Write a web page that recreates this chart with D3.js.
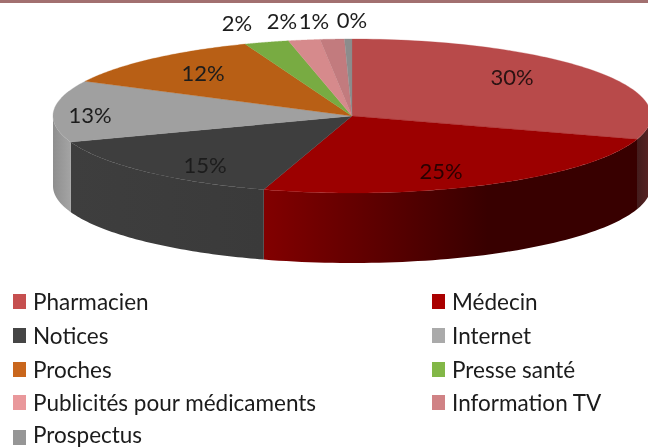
<!DOCTYPE html>
<html><head><meta charset="utf-8">
<script src="https://cdn.jsdelivr.net/npm/d3@7"></script>
<style>html,body{margin:0;padding:0;background:#fff;overflow:hidden}svg{display:block}
text{font-family:Lato,"Noto Sans",sans-serif}</style></head><body>
<svg id="c" width="648" height="447"></svg>
<script>
const categories=["Pharmacien","Médecin","Notices","Internet","Proches","Presse santé","Publicités pour médicaments","Information TV","Prospectus"];
const shares=[29.8,24.8,14.7,12.9,11.7,2.4,1.7,1.3,0.4];
const topColors=["#b84a4a","#9c0000","#3e3e3e","#a0a0a0","#b85f15","#78ab42","#d68a8c","#c27b7e","#8c8c8c"];
const legendColors=["#c65050","#aa0000","#444444","#aaaaaa","#c9661a","#82b746","#e9989b","#d08285","#969696"];
const wallFrom=["#5a2424","#820000","#3a3a3a","#a4a4a4","#a85812","#6a9a3a","#c07c7e","#b06f70","#7e7e7e"];
const wallTo=["#431c1c","#380000","#3e3e3e","#8e8e8e","#a85812","#6a9a3a","#c07c7e","#b06f70","#7e7e7e"];

const W=648,H=447,cx=352,cy=116,rx=299,ry=77,depth=70;
const svg=d3.select("#c");
svg.append("rect").attr("width",W).attr("height",3).attr("fill","#a27070");
const x=d3.scaleLinear().domain([-1,1]).range([cx-rx,cx+rx]);
const y=d3.scaleLinear().domain([-1,1]).range([cy-ry,cy+ry]);
const pie=d3.pie().sort(null).value(d=>d)(shares);
const pt=(a,r=1,dz=0)=>[x(Math.sin(a)*r),y(-Math.cos(a)*r)+dz];
const line=d3.line();
const defs=svg.append("defs");
defs.append("filter").attr("id","soft").attr("x","-10%").attr("y","-20%").attr("width","120%").attr("height","140%")
  .append("feGaussianBlur").attr("stdDeviation",0.4);
const pi=Math.PI;
pie.forEach((s,i)=>{
  const a0=Math.max(s.startAngle,pi/2),a1=Math.min(s.endAngle,3*pi/2);
  if(a1<=a0)return;
  const angs=d3.range(0,61).map(k=>a0+(a1-a0)*k/60);
  const rim=angs.map(a=>pt(a));
  const low=angs.map(a=>pt(a,1,depth)).reverse();
  const xs=rim.map(p=>p[0]);
  const g=defs.append("linearGradient").attr("id","w"+i).attr("gradientUnits","userSpaceOnUse")
    .attr("x1",d3.max(xs)).attr("x2",d3.min(xs)).attr("y1",0).attr("y2",0);
  g.append("stop").attr("offset",0).attr("stop-color",i===1?wallTo[i]:wallFrom[i]);
  if(i===1) g.append("stop").attr("offset",0.4).attr("stop-color",wallTo[i]);
  g.append("stop").attr("offset",1).attr("stop-color",i===1?wallFrom[i]:wallTo[i]);
  svg.append("path").attr("d",line(rim.concat(low))+"Z").attr("fill",`url(#w${i})`);
});
pie.forEach((s,i)=>{
  const angs=d3.range(0,81).map(k=>s.startAngle+(s.endAngle-s.startAngle)*k/80);
  svg.append("path").attr("d",line([[x(0),y(0)],...angs.map(a=>pt(a))])+"Z")
    .attr("fill",topColors[i]).attr("stroke",topColors[i]).attr("stroke-width",0.3);
});
const labelSpots=[[512,85],[441,179],[205,173],[90,123],[203,81],[237,31],[282,29],[314,29],[352,28]];
const labelFill=["#2a1212","#2a0505","#1c1c1c","#1c1c1c","#1c1c1c","#1c1c1c","#1c1c1c","#1c1c1c","#1c1c1c"];
const labels=svg.append("g").attr("filter","url(#soft)");
shares.forEach((v,i)=>{
  labels.append("text").attr("x",labelSpots[i][0]).attr("y",labelSpots[i][1]).attr("text-anchor","middle")
    .attr("font-size",22).attr("fill",labelFill[i]).text(Math.round(v)+"%");
});
const colX=[13,432],rowY=[310,344,378,411,446];
const legend=svg.append("g").attr("filter","url(#soft)");
categories.forEach((c,i)=>{
  const col=i%2,row=Math.floor(i/2);
  legend.append("rect").attr("x",colX[col]).attr("y",rowY[row]-16).attr("width",13).attr("height",15).attr("fill",legendColors[i]);
  legend.append("text").attr("x",colX[col]+20).attr("y",Math.min(rowY[row],442.5)).attr("font-size",22.5).attr("fill","#1a1a1a").text(c);
});
</script></body></html>
